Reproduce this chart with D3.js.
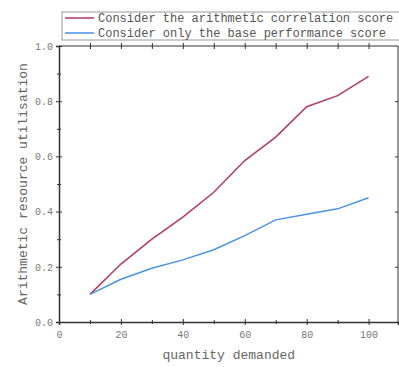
<!DOCTYPE html>
<html>
<head>
<meta charset="utf-8">
<script src="https://cdn.jsdelivr.net/npm/d3@7"></script>
<style>
  body { margin: 0; background: #fff; }
  text { font-family: "Liberation Mono", "DejaVu Sans Mono", monospace; }
</style>
</head>
<body>
<div id="chart"></div>
<script>
var demand = [10, 20, 30, 40, 50, 60, 70, 80, 90, 100];
var withCorrelation = [0.10, 0.21, 0.30, 0.38, 0.47, 0.585, 0.67, 0.78, 0.82, 0.89];
var baseOnly = [0.10, 0.155, 0.195, 0.225, 0.262, 0.313, 0.37, 0.39, 0.41, 0.45];
var seriesNames = ["Consider the arithmetic correlation score", "Consider only the base performance score"];
var seriesColors = ["#b23a5e", "#4a92e6"];
var xTicks = [0, 20, 40, 60, 80, 100];
var yTicks = [0.0, 0.2, 0.4, 0.6, 0.8, 1.0];

var W = 399, H = 367;
var margin = { top: 46, right: 1, bottom: 45, left: 59 };

var svg = d3.select("#chart").append("svg")
  .attr("width", W).attr("height", H);

var x = d3.scaleLinear().domain([0, 109.5]).range([margin.left, W - margin.right]);
var y = d3.scaleLinear().domain([0, 1]).range([H - margin.bottom, margin.top]);

var axisColor = "#333";

// frame
svg.append("path")
  .attr("d", "M" + margin.left + "," + y(1) + "H" + (W - margin.right) + "V" + y(0))
  .attr("fill", "none").attr("stroke", axisColor).attr("stroke-width", 1);

// bottom axis
var xAxis = svg.append("g")
  .attr("transform", "translate(0," + y(0) + ")")
  .call(d3.axisBottom(x).tickValues(xTicks).tickSize(3).tickPadding(6).tickFormat(d3.format("d")));
xAxis.selectAll("line").attr("y1", -3);
svg.append("g")
  .attr("transform", "translate(0," + y(0) + ")")
  .call(d3.axisBottom(x).tickValues([10, 30, 50, 70, 90]).tickSize(2).tickFormat(""))
  .call(function(g) { g.select(".domain").remove(); g.selectAll("line").attr("y1", -2); });

// top axis ticks
svg.append("g")
  .attr("transform", "translate(0," + y(1) + ")")
  .call(d3.axisTop(x).tickValues([10, 20, 30, 40, 50, 60, 70, 80, 90, 100]).tickSize(3).tickFormat(""))
  .call(function(g) { g.select(".domain").remove(); g.selectAll("line").attr("y1", 3); });

// left axis
var yAxis = svg.append("g")
  .attr("transform", "translate(" + margin.left + ",0)")
  .call(d3.axisLeft(y).tickValues(yTicks).tickSize(3).tickPadding(3).tickFormat(d3.format(".1f")));
yAxis.selectAll("line").attr("x1", 3);
svg.append("g")
  .attr("transform", "translate(" + margin.left + ",0)")
  .call(d3.axisLeft(y).tickValues([0.1, 0.3, 0.5, 0.7, 0.9]).tickSize(2).tickFormat(""))
  .call(function(g) { g.select(".domain").remove(); g.selectAll("line").attr("x1", 2); });

// right axis ticks
svg.append("g")
  .attr("transform", "translate(" + (W - margin.right) + ",0)")
  .call(d3.axisRight(y).tickValues([0.2, 0.4, 0.6, 0.8]).tickSize(3).tickFormat(""))
  .call(function(g) { g.select(".domain").remove(); g.selectAll("line").attr("x1", -3).attr("x2", 0); });

svg.selectAll(".domain").attr("stroke", axisColor).attr("stroke-width", 1.5);
svg.selectAll(".tick line").attr("stroke", axisColor);
svg.selectAll(".tick text").attr("fill", "#777").style("font-size", "10px")
  .style("font-family", "'Liberation Mono', monospace");

// axis titles
svg.append("text")
  .attr("x", (x(0) + x(100)) / 2 + 15).attr("y", 359)
  .attr("text-anchor", "middle").attr("fill", "#666").style("font-size", "13px")
  .text("quantity demanded");
svg.append("text")
  .attr("transform", "translate(27," + ((y(0) + y(1)) / 2) + ") rotate(-90)")
  .attr("text-anchor", "middle").attr("fill", "#666").style("font-size", "13px")
  .text("Arithmetic resource utilisation");

// lines
var line = d3.line()
  .x(function(d, i) { return x(demand[i]); })
  .y(function(d) { return y(d); });

[withCorrelation, baseOnly].forEach(function(s, i) {
  svg.append("path")
    .datum(s)
    .attr("d", line)
    .attr("fill", "none")
    .attr("stroke", seriesColors[i])
    .attr("stroke-width", 1.5);
});

// legend
var legend = svg.append("g").attr("transform", "translate(62,12)");
legend.append("rect")
  .attr("x", 0).attr("y", 0).attr("width", 340).attr("height", 28)
  .attr("fill", "#fff").attr("stroke", "#999").attr("stroke-width", 1);
seriesNames.forEach(function(name, i) {
  var ly = 6 + i * 15;
  legend.append("line")
    .attr("x1", 3).attr("x2", 32).attr("y1", ly).attr("y2", ly)
    .attr("stroke", seriesColors[i]).attr("stroke-width", 1.5);
  legend.append("text")
    .attr("x", 36).attr("y", ly + 4)
    .attr("fill", "#555").style("font-size", "12px")
    .text(name);
});
</script>
</body>
</html>
